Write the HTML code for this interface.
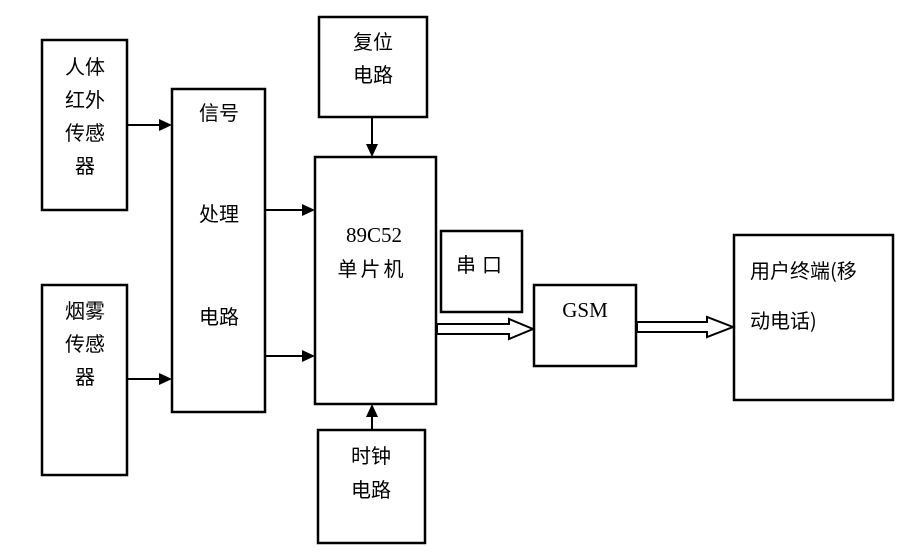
<!DOCTYPE html>
<html><head><meta charset="utf-8"><style>
html,body{margin:0;padding:0;background:#fff;}
svg{display:block;}
text{font-family:"Liberation Serif","Noto Sans CJK SC",serif;font-size:21px;fill:#000;}
.c{font-family:"Noto Sans CJK SC","WenQuanYi Zen Hei",sans-serif;font-size:20px;}
</style></head><body>
<svg width="909" height="558" viewBox="0 0 909 558" xmlns="http://www.w3.org/2000/svg">
<g fill="none" stroke="#000" stroke-width="2.5">
<rect x="42" y="40" width="85" height="170"/>
<rect x="172" y="89" width="93" height="323"/>
<rect x="42" y="285" width="85" height="190"/>
<rect x="319" y="17" width="108" height="100"/>
<rect x="315" y="157" width="121" height="247"/>
<rect x="441" y="231" width="81" height="81"/>
<rect x="534" y="285" width="102" height="81"/>
<rect x="734" y="235" width="159" height="165"/>
<rect x="318" y="430" width="107" height="113"/>
</g>
<g stroke="#000" stroke-width="2">
<line x1="128" y1="125" x2="160" y2="125"/>
<line x1="128" y1="379" x2="160" y2="379"/>
<line x1="266" y1="210" x2="303" y2="210"/>
<line x1="266" y1="356" x2="303" y2="356"/>
<line x1="372" y1="118" x2="372" y2="146"/>
<line x1="372" y1="429" x2="372" y2="415"/>
</g>
<g fill="#000">
<polygon points="172,125 159,119 159,131"/>
<polygon points="172,379 159,373 159,385"/>
<polygon points="315,210 302,204 302,216"/>
<polygon points="315,356 302,350 302,362"/>
<polygon points="372,157 366,144 378,144"/>
<polygon points="372,404 366,417 378,417"/>
</g>
<g fill="#fff" stroke="#000" stroke-width="2">
<polygon points="437,324 509,324 509,319 533,329 509,339 509,334 437,334"/>
<polygon points="637,322 707,322 707,317 733,327 707,337 707,332 637,332"/>
</g>
<g class="c">
<text class="c" x="85" y="74" text-anchor="middle">人体</text>
<text class="c" x="85" y="107" text-anchor="middle">红外</text>
<text class="c" x="85" y="140" text-anchor="middle">传感</text>
<text class="c" x="85" y="173" text-anchor="middle">器</text>
<text class="c" x="85" y="318" text-anchor="middle">烟雾</text>
<text class="c" x="85" y="351" text-anchor="middle">传感</text>
<text class="c" x="85" y="384" text-anchor="middle">器</text>
<text class="c" x="219" y="120" text-anchor="middle">信号</text>
<text class="c" x="219" y="221" text-anchor="middle">处理</text>
<text class="c" x="219" y="324" text-anchor="middle">电路</text>
<text class="c" x="373" y="49" text-anchor="middle">复位</text>
<text class="c" x="373" y="82" text-anchor="middle">电路</text>
<text class="c" x="372" y="276" text-anchor="middle" style="letter-spacing:3px">单片机</text>
<text class="c" x="482" y="272" text-anchor="middle" style="letter-spacing:6px">串口</text>
<text class="c" x="371" y="463" text-anchor="middle">时钟</text>
<text class="c" x="371" y="497" text-anchor="middle">电路</text>
<text class="c" x="750" y="278">用户终端(移</text>
<text class="c" x="750" y="328">动电话)</text>
</g>
<text x="374" y="242" text-anchor="middle">89C52</text>
<text x="585" y="317" text-anchor="middle">GSM</text>
</svg>
</body></html>
